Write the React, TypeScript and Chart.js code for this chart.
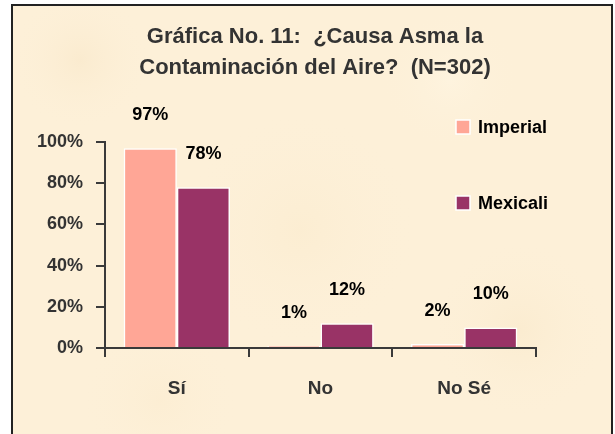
import React, { useEffect, useRef } from "react";
import { Chart, registerables } from "chart.js";

Chart.register(...registerables);

const categories = ["Sí", "No", "No Sé"];
const imperialValues = [97, 1, 2];
const mexicaliValues = [78, 12, 10];
const seriesNames = ["Imperial", "Mexicali"];
const seriesColors = ["#FFA696", "#993366"];
const yTickValues = [0, 20, 40, 60, 80, 100];
const titleLines = ["Gráfica No. 11:  ¿Causa Asma la", "Contaminación del Aire?  (N=302)"];

const FONT = "'Liberation Sans', Arial, Helvetica, sans-serif";

const decorPlugin = {
  id: "decor",
  beforeDraw(chart: any) {
    const ctx = chart.ctx;
    const W = chart.width;
    const H = chart.height;
    ctx.save();
    ctx.fillStyle = "#ffffff";
    ctx.fillRect(0, 0, W, H);
    // parchment panel
    ctx.fillStyle = "#FDF0D8";
    ctx.fillRect(12, 5, 600, H);
    const blotches = [
      [80, 60, 70, "rgba(245,225,190,0.35)"],
      [300, 230, 120, "rgba(248,230,196,0.3)"],
      [520, 330, 90, "rgba(246,226,190,0.3)"],
      [160, 400, 80, "rgba(250,232,200,0.3)"],
      [450, 80, 70, "rgba(255,248,232,0.4)"],
    ];
    for (const [x, y, r, c] of blotches as any) {
      const g = ctx.createRadialGradient(x, y, 0, x, y, r);
      g.addColorStop(0, c);
      g.addColorStop(1, "rgba(253,240,216,0)");
      ctx.fillStyle = g;
      ctx.fillRect(x - r, y - r, 2 * r, 2 * r);
    }
    ctx.strokeStyle = "#222222";
    ctx.lineWidth = 2;
    ctx.strokeRect(12, 5, 600, H + 10);
    // title
    ctx.fillStyle = "#333333";
    ctx.font = `bold 22px ${FONT}`;
    ctx.textAlign = "center";
    ctx.textBaseline = "middle";
    ctx.fillText(titleLines[0], 315, 37);
    ctx.fillText(titleLines[1], 315, 68);
    // legend
    const legendY = [127, 203];
    ctx.font = `bold 18px ${FONT}`;
    ctx.textAlign = "left";
    seriesNames.forEach((name, i) => {
      ctx.fillStyle = seriesColors[i];
      ctx.fillRect(456, legendY[i] - 7, 14, 14);
      ctx.strokeStyle = "#ffffff";
      ctx.lineWidth = 1.5;
      ctx.strokeRect(456, legendY[i] - 7, 14, 14);
      ctx.fillStyle = "#000000";
      ctx.fillText(name, 478, legendY[i] + 1);
    });
    ctx.restore();
  },
  afterDatasetsDraw(chart: any) {
    const ctx = chart.ctx;
    ctx.save();
    ctx.font = `bold 18px ${FONT}`;
    ctx.fillStyle = "#000000";
    ctx.textAlign = "center";
    ctx.textBaseline = "middle";
    chart.data.datasets.forEach((ds: any, di: number) => {
      const meta = chart.getDatasetMeta(di);
      meta.data.forEach((el: any, i: number) => {
        ctx.fillText(ds.data[i] + "%", el.x, el.y - 33);
      });
    });
    ctx.restore();
  },
};

export default function App() {
  const ref = useRef<HTMLCanvasElement | null>(null);
  useEffect(() => {
    if (!ref.current) return;
    const chart = new Chart(ref.current, {
      type: "bar",
      data: {
        labels: categories,
        datasets: [
          {
            label: seriesNames[0],
            data: imperialValues,
            backgroundColor: seriesColors[0],
            borderColor: "#ffffff",
            borderWidth: 1.5,
            barPercentage: 1,
            categoryPercentage: 0.74,
          },
          {
            label: seriesNames[1],
            data: mexicaliValues,
            backgroundColor: seriesColors[1],
            borderColor: "#ffffff",
            borderWidth: 1.5,
            barPercentage: 1,
            categoryPercentage: 0.74,
          },
        ],
      },
      options: {
        responsive: false,
        animation: false,
        devicePixelRatio: 1,
        layout: { padding: { left: 0, right: 79, top: 142, bottom: 0 } },
        plugins: {
          legend: { display: false },
          title: { display: false },
          tooltip: { enabled: false },
        },
        scales: {
          x: {
            afterFit: (s: any) => {
              s.height = 86;
            },
            grid: {
              display: true,
              offset: true,
              drawOnChartArea: false,
              drawTicks: true,
              tickLength: 9,
              color: "#3a3a3a",
              lineWidth: 2,
            },
            border: { display: true, color: "#3a3a3a", width: 2 },
            ticks: {
              color: "#333333",
              font: { family: FONT, size: 19, weight: "bold" },
              padding: 20,
            },
          },
          y: {
            min: 0,
            max: 100,
            afterFit: (s: any) => {
              s.width = 105;
            },
            afterBuildTicks: (s: any) => {
              s.ticks = yTickValues.map((v) => ({ value: v }));
            },
            grid: {
              display: true,
              drawOnChartArea: false,
              drawTicks: true,
              tickLength: 9,
              color: "#3a3a3a",
              lineWidth: 2,
            },
            border: { display: true, color: "#3a3a3a", width: 2 },
            ticks: {
              color: "#333333",
              font: { family: FONT, size: 18, weight: "bold" },
              padding: 13,
              callback: (v: any) => v + "%",
            },
          },
        },
      },
      plugins: [decorPlugin],
    } as any);
    return () => chart.destroy();
  }, []);
  return (
    <div style={{ position: "absolute", left: 0, top: 0, width: 615, height: 434 }}>
      <canvas ref={ref} width={615} height={434} />
    </div>
  );
}
